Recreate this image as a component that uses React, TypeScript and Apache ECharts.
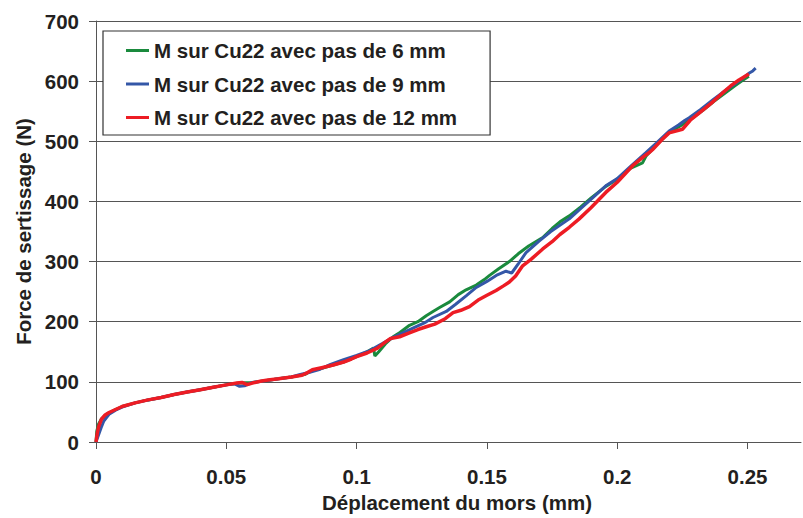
import React, { useEffect, useRef } from "react";
import * as echarts from "echarts";

const seriesNames = [
  "M sur Cu22 avec pas de 6 mm",
  "M sur Cu22 avec pas de 9 mm",
  "M sur Cu22 avec pas de 12 mm",
];
const seriesColors = ["#1a8a3d", "#3457a7", "#ed1c24"];

const pas6: [number, number][] = [
  [0, 0], [0.0003, 18], [0.001, 30], [0.002, 38], [0.004, 46], [0.0075, 54], [0.01, 59], [0.015, 65],
  [0.02, 70], [0.025, 74], [0.03, 79], [0.035, 83], [0.04, 87], [0.045, 91], [0.05, 95], [0.055, 98],
  [0.06, 99], [0.065, 102], [0.07, 105], [0.075, 108], [0.08, 112], [0.083, 119], [0.087, 123],
  [0.091, 128], [0.095, 133], [0.1, 142], [0.104, 150], [0.1065, 156], [0.107, 143], [0.1085, 150],
  [0.111, 163], [0.114, 175], [0.1166, 182], [0.1203, 194], [0.1235, 200], [0.1267, 210], [0.1293, 217],
  [0.132, 224], [0.1357, 233], [0.139, 245], [0.142, 253], [0.1459, 261], [0.149, 270], [0.151, 277],
  [0.1545, 288], [0.1586, 300], [0.162, 313], [0.166, 326], [0.1714, 340], [0.175, 355], [0.178, 366],
  [0.1816, 376], [0.186, 391], [0.19, 406], [0.1956, 425], [0.2, 437], [0.205, 455], [0.2097, 464],
  [0.211, 475], [0.215, 494], [0.22, 515], [0.224, 525], [0.2276, 535], [0.233, 552], [0.237, 566],
  [0.241, 579], [0.245, 592], [0.248, 601], [0.2505, 608],
];

const pas9: [number, number][] = [
  [0, 0], [0.001, 12], [0.002, 24], [0.003, 35], [0.005, 46], [0.0075, 53], [0.01, 58], [0.015, 65],
  [0.02, 70], [0.025, 74], [0.03, 79], [0.035, 83], [0.04, 87], [0.045, 91], [0.05, 95], [0.053, 97],
  [0.0551, 92.5], [0.057, 93.5], [0.06, 99], [0.065, 102], [0.07, 105], [0.075, 108], [0.078, 112],
  [0.082, 116], [0.086, 121], [0.09, 129], [0.095, 137], [0.1, 144], [0.105, 152], [0.11, 164],
  [0.114, 174], [0.118, 182], [0.122, 190], [0.126, 198], [0.1293, 207], [0.1344, 217], [0.138, 229],
  [0.142, 243], [0.1459, 257], [0.15, 267], [0.154, 278], [0.1573, 284], [0.1595, 281], [0.162, 296],
  [0.165, 315], [0.17, 334], [0.1745, 350], [0.1816, 371], [0.1854, 386], [0.19, 404], [0.1956, 426],
  [0.2, 438], [0.205, 458], [0.211, 481], [0.215, 497], [0.2199, 517], [0.2235, 527], [0.226, 535],
  [0.2276, 539], [0.232, 553], [0.237, 570], [0.242, 586], [0.247, 601], [0.2505, 613], [0.252, 617],
  [0.2531, 621.5],
];

const pas12: [number, number][] = [
  [0, 0], [0.0005, 15], [0.001, 25], [0.0021, 38], [0.0035, 45], [0.005, 49], [0.0075, 54], [0.01, 59],
  [0.015, 65], [0.02, 70], [0.025, 74], [0.03, 79], [0.035, 83], [0.04, 87], [0.045, 91], [0.05, 95],
  [0.054, 98], [0.056, 99], [0.058, 95.5], [0.06, 98], [0.063, 101], [0.066, 103], [0.07, 105],
  [0.075, 108], [0.079, 111], [0.081, 115], [0.083, 120], [0.087, 124], [0.091, 128], [0.095, 133],
  [0.098, 138], [0.1, 142], [0.104, 148], [0.108, 156], [0.111, 166], [0.113, 172], [0.1165, 175],
  [0.12, 181], [0.1235, 187], [0.127, 192], [0.13, 196], [0.134, 205], [0.137, 215], [0.14, 219],
  [0.1433, 225], [0.147, 237], [0.15, 244], [0.1535, 252], [0.1565, 260], [0.1586, 266], [0.161, 276],
  [0.1637, 293], [0.167, 304], [0.1714, 321], [0.175, 333], [0.178, 345], [0.1816, 357], [0.1854, 371],
  [0.19, 390], [0.1956, 415], [0.2, 432], [0.2058, 459], [0.21, 474], [0.2122, 481], [0.2135, 486],
  [0.217, 502], [0.2199, 514], [0.225, 520], [0.228, 535], [0.2314, 547], [0.236, 563], [0.2403, 580],
  [0.2435, 592], [0.2467, 602], [0.2505, 612],
];

const xTitle = "Déplacement du mors (mm)";
const yTitle = "Force de sertissage (N)";

const FONT = "'Liberation Sans', Arial, sans-serif";
const TXT = "#231f20";

export default function App() {
  const ref = useRef<HTMLDivElement>(null);
  useEffect(() => {
    document.body.style.margin = "0";
    if (!ref.current) return;
    const chart = echarts.init(ref.current, undefined, { renderer: "svg" });
    const data = [pas6, pas9, pas12];
    chart.setOption({
      animation: false,
      backgroundColor: "#ffffff",
      textStyle: { fontFamily: FONT },
      grid: { left: 96, right: 2, top: 21, bottom: 74, containLabel: false },
      legend: {
        orient: "vertical",
        left: 103,
        top: 31,
        data: seriesNames,
        icon: "rect",
        itemWidth: 23,
        itemHeight: 3,
        itemGap: 12.5,
        padding: [9, 33, 7, 23],
        backgroundColor: "#ffffff",
        borderColor: "#333333",
        borderWidth: 1.2,
        textStyle: { fontFamily: FONT, fontWeight: "bold", fontSize: 20.5, color: TXT },
      },
      xAxis: {
        type: "value",
        min: 0,
        max: 0.2705,
        interval: 0.05,
        name: xTitle,
        nameLocation: "middle",
        nameGap: 50,
        nameTextStyle: { fontFamily: FONT, fontWeight: "bold", fontSize: 20.5, color: TXT, padding: [0, 0, 0, 17] },
        axisLine: { show: true, lineStyle: { color: "#555555", width: 1 } },
        axisTick: { show: true, inside: false, length: 7, lineStyle: { color: "#555555" } },
        axisLabel: {
          fontFamily: FONT, fontWeight: "bold", fontSize: 20.5, color: TXT, margin: 24,
          showMaxLabel: false,
          formatter: (v: number) => (v <= 0.2501 ? String(parseFloat(v.toFixed(2))) : ""),
        },
        splitLine: { show: false },
      },
      yAxis: {
        type: "value",
        min: 0,
        max: 700,
        interval: 100,
        name: yTitle,
        nameLocation: "middle",
        nameGap: 60,
        nameTextStyle: { fontFamily: FONT, fontWeight: "bold", fontSize: 20.5, color: TXT },
        axisLine: { show: true, lineStyle: { color: "#555555", width: 1 } },
        axisTick: { show: true, inside: false, length: 7, lineStyle: { color: "#555555" } },
        axisLabel: { fontFamily: FONT, fontWeight: "bold", fontSize: 20.5, color: TXT, margin: 17 },
        splitLine: { show: true, lineStyle: { color: "#555555", width: 1 } },
      },
      series: seriesNames.map((name, i) => ({
        name,
        type: "line",
        data: data[i],
        symbol: "none",
        z: 2 + i,
        lineStyle: { color: seriesColors[i], width: i === 2 ? 3.5 : 3 },
        itemStyle: { color: seriesColors[i] },
      })),
    });
    return () => chart.dispose();
  }, []);
  return <div ref={ref} style={{ width: 803, height: 518 }} />;
}
